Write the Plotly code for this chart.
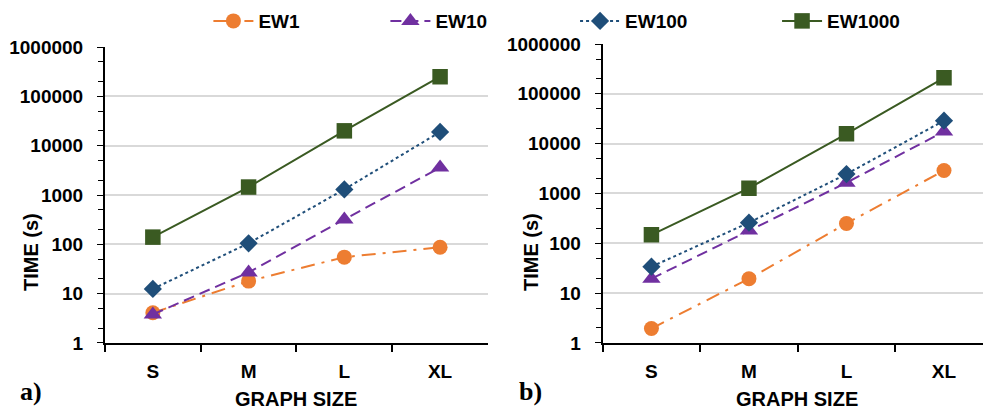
import plotly.graph_objects as go

# Graph-size categories shared by both panels
sizes = ["S", "M", "L", "XL"]

# Panel a) run times in seconds
a_ew1 = [4.1, 18, 55, 87]
a_ew10 = [3.8, 27, 320, 3600]
a_ew100 = [12.5, 105, 1300, 19000]
a_ew1000 = [140, 1450, 20000, 250000]

# Panel b) run times in seconds
b_ew1 = [1.95, 19.5, 250, 2900]
b_ew10 = [19.5, 180, 1650, 17500]
b_ew100 = [34, 260, 2450, 29000]
b_ew1000 = [148, 1280, 15800, 210000]

y_ticks = [1, 10, 100, 1000, 10000, 100000, 1000000]

FONT = "Liberation Sans, Arial"
ORANGE = "#ED7D31"
PURPLE = "#7030A0"
BLUE = "#1F4E79"
GREEN = "#3A5A22"

series = [
    ("EW1", ORANGE, "14px,7px,3px,7px", "circle", 15, "legend"),
    ("EW10", PURPLE, "11px,6px", "triangle-up", 16, "legend"),
    ("EW100", BLUE, "dot", "diamond", 14, "legend2"),
    ("EW1000", GREEN, "solid", "square", 15.5, "legend2"),
]
panel_a = [a_ew1, a_ew10, a_ew100, a_ew1000]
panel_b = [b_ew1, b_ew10, b_ew100, b_ew1000]

fig = go.Figure()
for (name, color, dash, sym, msize, leg), ya, yb in zip(series, panel_a, panel_b):
    line = dict(color=color, width=2, dash=dash)
    marker = dict(symbol=sym, size=msize, color=color)
    fig.add_trace(go.Scatter(x=sizes, y=ya, name=f"<b>{name}</b>", mode="lines+markers",
                             line=line, marker=marker, xaxis="x", yaxis="y",
                             legend=leg, showlegend=True))
    fig.add_trace(go.Scatter(x=sizes, y=yb, name=f"<b>{name}</b>", mode="lines+markers",
                             line=line, marker=marker, xaxis="x2", yaxis="y2",
                             showlegend=False))

tick_font = dict(family=FONT, size=19, color="#000000")
title_font = dict(family=FONT, size=20, color="#000000")


def x_axis(domain, anchor, rng):
    return dict(domain=domain, anchor=anchor, type="category", range=rng,
                categoryorder="array", categoryarray=sizes,
                tickvals=sizes, ticktext=[f"<b>{s}</b>" for s in sizes],
                showline=True, linecolor="#000000", linewidth=2,
                ticks="outside", tickson="boundaries", ticklen=7,
                tickcolor="#000000", tickwidth=1.5,
                tickfont=tick_font, ticklabelstandoff=10,
                showgrid=False, zeroline=False, automargin=False)


def y_axis(domain, anchor):
    return dict(domain=domain, anchor=anchor, type="log", range=[0, 6],
                tickvals=y_ticks, ticktext=[f"<b>{v}</b>" for v in y_ticks],
                showline=True, linecolor="#000000", linewidth=2,
                ticks="outside", ticklen=6, tickcolor="#000000", tickwidth=1,
                minor=dict(ticks="outside", ticklen=5, tickcolor="#000000",
                           tickwidth=1, showgrid=False),
                tickfont=tick_font, ticklabelstandoff=10,
                showgrid=True, gridcolor="#D9D9D9", gridwidth=1.5,
                zeroline=False, automargin=False)


legend_font = dict(family=FONT, size=19, color="#000000")

fig.update_layout(
    width=983, height=409,
    margin=dict(l=0, r=0, t=0, b=0, autoexpand=False),
    paper_bgcolor="#FFFFFF", plot_bgcolor="#FFFFFF",
    xaxis=x_axis([0.1068, 0.4964], "y", [-0.5, 3.5]),
    yaxis=y_axis([0.1614, 0.885], "x"),
    xaxis2=x_axis([0.6131, 1.0], "y2", [-0.5, 3.4]),
    yaxis2=y_axis([0.1614, 0.8924], "x2"),
    legend=dict(orientation="h", x=0.212, y=0.995, xanchor="left", yanchor="top",
                entrywidth=122, entrywidthmode="pixels", itemwidth=40,
                font=legend_font, bgcolor="rgba(0,0,0,0)"),
    legend2=dict(orientation="h", x=0.585, y=0.995, xanchor="left", yanchor="top",
                 entrywidth=147, entrywidthmode="pixels", itemwidth=40,
                 font=legend_font, bgcolor="rgba(0,0,0,0)"),
    showlegend=True,
)

# Axis titles for each panel
for x_y_title, x_x_title in [(31, 296), (531, 797)]:
    fig.add_annotation(text="<b>TIME (s)</b>", xref="paper", yref="paper",
                       x=x_y_title / 983, y=(409 - 252) / 409, textangle=-90,
                       xanchor="center", yanchor="middle", showarrow=False,
                       font=title_font)
    fig.add_annotation(text="<b>GRAPH SIZE</b>", xref="paper", yref="paper",
                       x=x_x_title / 983, y=(409 - 399) / 409,
                       xanchor="center", yanchor="middle", showarrow=False,
                       font=title_font)

# Panel letters
for txt, xpos in [("a)", 18), ("b)", 517)]:
    fig.add_annotation(text=f"<b>{txt}</b>", xref="paper", yref="paper",
                       x=xpos / 983, y=(409 - 391) / 409, xanchor="left",
                       yanchor="middle", showarrow=False,
                       font=dict(family="Liberation Serif, Times New Roman", size=26,
                                 color="#000000"))

fig.write_html("out.html")
